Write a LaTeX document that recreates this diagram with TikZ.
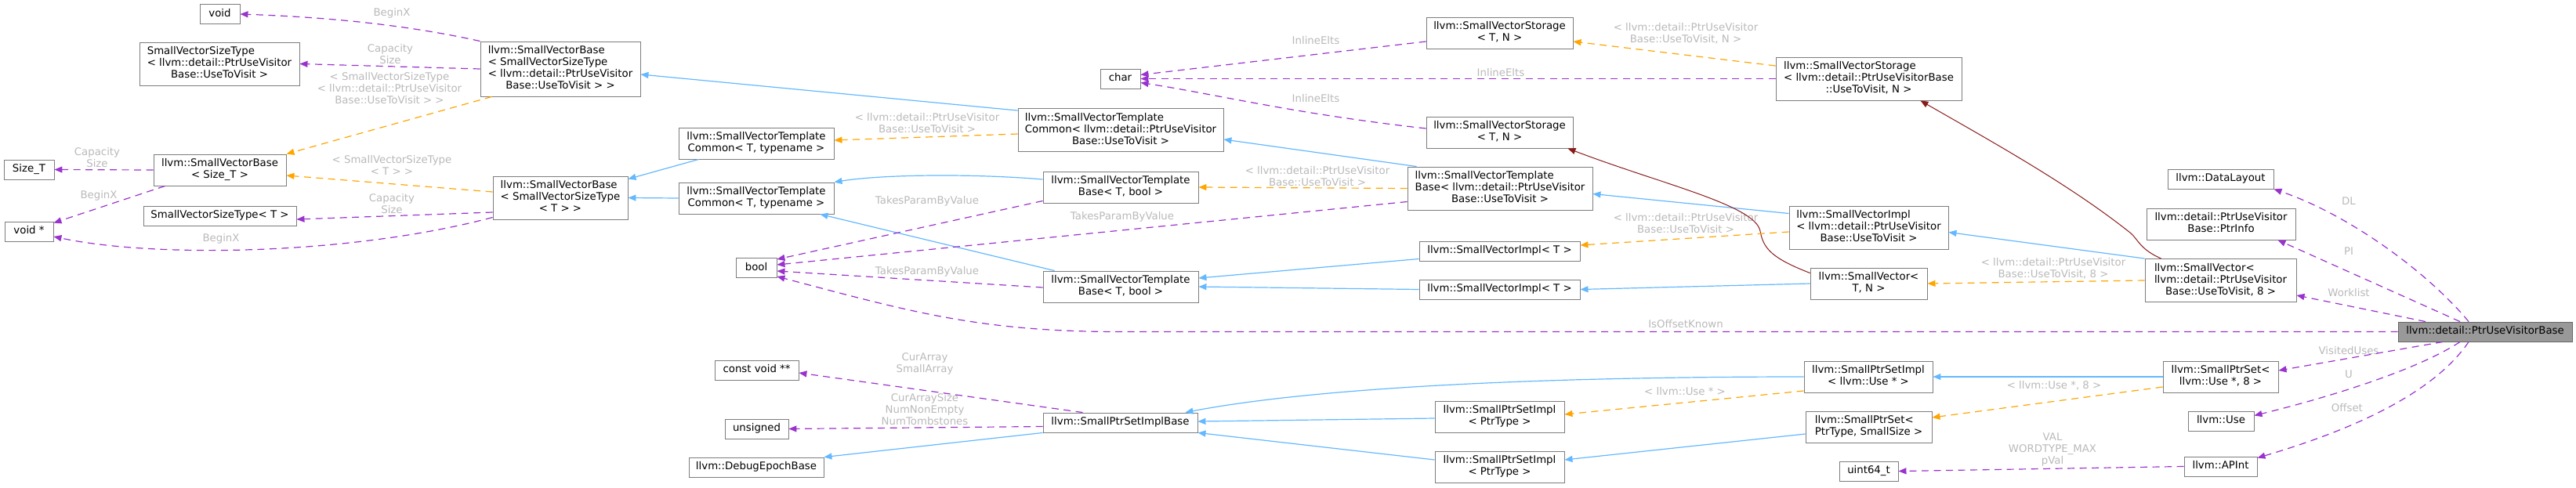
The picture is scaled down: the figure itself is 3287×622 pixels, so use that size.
\documentclass[tikz,border=0pt]{standalone}
\usepackage{fontspec}
\setmainfont{DejaVu Sans}
\usetikzlibrary{arrows.meta}
\definecolor{inhblue}{RGB}{99,184,255}
\definecolor{tmplorange}{RGB}{255,165,0}
\definecolor{memberpurple}{RGB}{154,50,205}
\definecolor{privred}{RGB}{139,26,26}
\definecolor{boxgray}{RGB}{125,125,125}
\definecolor{focusfill}{RGB}{153,153,153}
\definecolor{focusline}{RGB}{102,102,102}
\definecolor{lblgray}{RGB}{185,185,185}
\newcommand{\mln}[2]{\begin{tabular}{@{}l@{}}#1\\\multicolumn{1}{@{}c@{}}{#2}\end{tabular}}
\newcommand{\oneln}[1]{\begin{tabular}{@{}c@{}}#1\end{tabular}}
\tikzset{cls/.style={draw=boxgray,fill=white,line width=0.9pt,minimum height=25pt,inner xsep=0pt,inner ysep=5pt},
  focus/.style={cls,draw=focusline,fill=focusfill},
  lbl/.style={text=lblgray,align=center,inner sep=0pt},
  inh/.style={draw=inhblue,line width=1.2pt,-{Triangle[length=10pt,width=8pt]}},
  tmpl/.style={inh,draw=tmplorange,dash pattern=on 9pt off 6.5pt},
  member/.style={inh,draw=memberpurple,dash pattern=on 9pt off 6.5pt},
  priv/.style={inh,draw=privred,line width=1pt}}

\begin{document}
\begin{tikzpicture}[x=1pt,y=-1pt,font=\fontsize{13.3}{15}\selectfont]
\useasboundingbox (0,0) rectangle (3287,622);
\foreach \n/\x/\y/\w/\txt in {
  voidN/280.5/18/51/{\oneln{void}},
  svstU/280/81.5/204/{\mln{SmallVectorSizeType\\< llvm::detail::PtrUseVisitor}{Base::UseToVisit >}},
  sizeT/37/216.5/64/{\oneln{Size\_T}},
  svbS/280.5/217/169/{\mln{llvm::SmallVectorBase}{< Size\_T >}},
  svstT/280.5/275.5/195/{\oneln{SmallVectorSizeType< T >}},
  voidP/37/295.5/62/{\oneln{void *}},
  svbU/715/88/204/{\mln{llvm::SmallVectorBase\\< SmallVectorSizeType\\< llvm::detail::PtrUseVisitor}{Base::UseToVisit > >}},
  svbT/715/252.5/172/{\mln{llvm::SmallVectorBase\\< SmallVectorSizeType}{< T > >}},
  svtcA/965/183/198/{\mln{llvm::SmallVectorTemplate}{Common< T, typename >}},
  svtcB/965/253/198/{\mln{llvm::SmallVectorTemplate}{Common< T, typename >}},
  boolN/965/342/52/{\oneln{bool}},
  cvpp/965.5/472.5/107/{\oneln{const void **}},
  unsg/965.5/547.5/81/{\oneln{unsigned}},
  debug/965/596.5/172/{\oneln{llvm::DebugEpochBase}},
  charN/1429.5/100.5/51/{\oneln{char}},
  svtcU/1430/166/262/{\mln{llvm::SmallVectorTemplate\\Common< llvm::detail::PtrUseVisitor}{Base::UseToVisit >}},
  svtbA/1430/239/198/{\mln{llvm::SmallVectorTemplate}{Base< T, bool >}},
  svtbB/1430/366/198/{\mln{llvm::SmallVectorTemplate}{Base< T, bool >}},
  spsib/1429.5/539.5/197/{\oneln{llvm::SmallPtrSetImplBase}},
  svsA/1913.5/42/187/{\mln{llvm::SmallVectorStorage}{< T, N >}},
  svsB/1913.5/169/187/{\mln{llvm::SmallVectorStorage}{< T, N >}},
  svtbU/1914/240.5/236/{\mln{llvm::SmallVectorTemplate\\Base< llvm::detail::PtrUseVisitor}{Base::UseToVisit >}},
  sviA/1913.5/320.5/205/{\oneln{llvm::SmallVectorImpl< T >}},
  sviB/1913.5/369.5/205/{\oneln{llvm::SmallVectorImpl< T >}},
  spsiA/1913.5/532/165/{\mln{llvm::SmallPtrSetImpl}{< PtrType >}},
  spsiB/1913.5/596/165/{\mln{llvm::SmallPtrSetImpl}{< PtrType >}},
  svsU/2384.5/100.5/237/{\mln{llvm::SmallVectorStorage\\< llvm::detail::PtrUseVisitorBase}{::UseToVisit, N >}},
  sviU/2384.5/290.5/203/{\mln{llvm::SmallVectorImpl\\< llvm::detail::PtrUseVisitor}{Base::UseToVisit >}},
  svTN/2384.5/362/149/{\mln{llvm::SmallVector<}{T, N >}},
  spsiU/2384/481/164/{\mln{llvm::SmallPtrSetImpl}{< llvm::Use * >}},
  spsPS/2384.5/545/161/{\mln{llvm::SmallPtrSet<}{PtrType, SmallSize >}},
  u64/2384.5/601.5/75/{\oneln{uint64\_t}},
  dl/2833.5/228.5/135/{\oneln{llvm::DataLayout}},
  pinfo/2834/286/190/{\mln{llvm::detail::PtrUseVisitor}{Base::PtrInfo}},
  svU8/2833.5/358/193/{\mln{llvm::SmallVector<\\llvm::detail::PtrUseVisitor}{Base::UseToVisit, 8 >}},
  spsU8/2833.5/481/147/{\mln{llvm::SmallPtrSet<}{llvm::Use *, 8 >}},
  useN/2834/537.5/84/{\oneln{llvm::Use}},
  apint/2833.5/595.5/93/{\oneln{llvm::APInt}}
}{\node[cls,minimum width=\w pt] (\n) at (\x,\y) {\txt};}
\node[focus,minimum width=222pt] (main) at (3171,423.5) {\oneln{llvm::detail::PtrUseVisitorBase}};

\foreach \n/\x/\y/\txt in {
  lBegA/500/17/{BeginX}, lCapA/498/69.5/{Capacity\\Size},
  lTmplA/497/113/{< SmallVectorSizeType\\< llvm::detail::PtrUseVisitor\\Base::UseToVisit > >},
  lCapB/124/201/{Capacity\\Size}, lTmplB/500/211/{< SmallVectorSizeType\\< T > >},
  lBegB/126/250/{BeginX}, lCapC/500/260/{Capacity\\Size}, lBegC/282/305/{BeginX},
  lTmplC/1183/157/{< llvm::detail::PtrUseVisitor\\Base::UseToVisit >},
  lTakesA/1183/257/{TakesParamByValue}, lTakesB/1183/347/{TakesParamByValue},
  lCurArr/1180/464/{CurArray\\SmallArray}, lCurSz/1180/523/{CurArraySize\\NumNonEmpty\\NumTombstones},
  lInlA/1679/52/{InlineElts}, lInlB/1915/93/{InlineElts}, lInlC/1679/126/{InlineElts},
  lTmplD/1681/225/{< llvm::detail::PtrUseVisitor\\Base::UseToVisit >},
  lTakesC/1432/277/{TakesParamByValue},
  lTmplE/2151/43/{< llvm::detail::PtrUseVisitor\\Base::UseToVisit, N >},
  lTmplF/2151/285/{< llvm::detail::PtrUseVisitor\\Base::UseToVisit >},
  lTmplG/2620/343/{< llvm::detail::PtrUseVisitor\\Base::UseToVisit, 8 >},
  lOffKn/2151/414/{IsOffsetKnown}, lUseA/2150/500/{< llvm::Use * >}, lUseB/2621/492/{< llvm::Use *, 8 >},
  lVal/2619/574/{VAL\\WORDTYPE\_MAX\\pVal},
  lDL/2997/257/{DL}, lPI/2997/321/{PI}, lWork/2997/374/{Worklist},
  lVisit/2997/448/{VisitedUses}, lU/2997/478/{U}, lOffset/2997/521/{Offset}
}{\node[lbl] (\n) at (\x,\y) {\txt};}

% public inheritance
\draw[inh] ([yshift=-3pt]svtcU.north west) -- ([yshift=-7pt]svbU.east);
\draw[inh] ([xshift=26pt]svtcA.south west) -- ([yshift=-4pt]svbT.north east);
\draw[inh] (svtcB.west) -- (svbT.east);
\draw[inh] ([yshift=10pt]svtbA.west) .. controls (1250,222) and (1130,222) .. (svtcB.north east);
\draw[inh] ([xshift=15pt]svtbB.north west) -- ([xshift=-18pt]svtcB.south east);
\draw[inh] ([xshift=12pt]svtbU.north west) -- ([yshift=-12pt]svtcU.east);
\draw[inh] ([yshift=-10pt]sviA.west) -- ([yshift=11pt]svtbB.east);
\draw[inh] (sviB.west) -- (svtbB.east);
\draw[inh] ([yshift=18pt]sviU.west) -- ([yshift=-7pt]svtbU.east);
\draw[inh] (svTN.west) -- (sviB.east);
\draw[inh] (svU8.north west) -- ([yshift=-6pt]sviU.east);
\draw[inh] (spsiU.west) .. controls (1900,481) and (1650,500) .. ([xshift=-16pt]spsib.north east);
\draw[inh] ([yshift=-2pt]spsiA.west) -- ([yshift=1.5pt]spsib.east);
\draw[inh] ([yshift=9pt]spsiB.west) -- (spsib.south east);
\draw[inh] (spsib.south west) -- (debug.north east);
\draw[inh] (spsU8.west) -- (spsiU.east);
\draw[inh] ([yshift=-9pt]spsPS.west) -- ([yshift=9pt]spsiB.east);

% private inheritance
\draw[priv] ([yshift=-7pt]svTN.north west) .. controls (2262,330) and (2250,318) .. (2246,295) .. controls (2240,262) and (2120,235) .. ([xshift=-7pt]svsB.south east);
\draw[priv] ([xshift=21pt]svU8.north west) .. controls (2730,318) and (2728,305) .. (2718,297) .. controls (2640,235) and (2540,180) .. ([xshift=-53pt]svsU.south east);

% template instances
\draw[tmpl] ([xshift=15pt]svbU.south west) -- (svbS.north east);
\draw[tmpl] ([yshift=7.5pt]svbT.west) -- ([yshift=-7pt]svbS.east);
\draw[tmpl] ([yshift=-5pt]svtcU.west) -- ([yshift=4pt]svtcA.east);
\draw[tmpl] (svtbU.west) -- (svtbA.east);
\draw[tmpl] ([yshift=16.5pt]svsU.west) -- ([yshift=-11pt]svsA.east);
\draw[tmpl] ([yshift=-5.5pt]sviU.west) -- ([yshift=7.5pt]sviA.east);
\draw[tmpl] (svU8.west) -- (svTN.east);
\draw[tmpl] ([yshift=-18pt]spsiU.west) -- ([yshift=3pt]spsiA.east);
\draw[tmpl] ([yshift=-13pt]spsU8.west) -- ([yshift=12pt]spsPS.east);

% members
\draw[member] (svbU.north west) .. controls (520,32) and (420,22) .. (voidN.east);
\draw[member] (svbU.west) -- (svstU.east);
\draw[member] (svbS.west) -- (sizeT.east);
\draw[member] ([xshift=15pt]svbS.south west) -- ([yshift=-2pt]voidP.north east);
\draw[member] ([yshift=-18.5pt]svbT.west) -- ([yshift=-4.5pt]svstT.east);
\draw[member] ([yshift=-25pt]svbT.west) .. controls (450,325) and (200,330) .. ([yshift=-6.5pt]voidP.east);
\draw[member] ([yshift=-11pt]svsA.west) -- ([yshift=5pt]charN.east);
\draw[member] (svsU.west) -- (charN.east);
\draw[member] ([yshift=5pt]svsB.west) .. controls (1650,145) and (1550,120) .. ([yshift=-5pt]charN.east);
\draw[member] ([yshift=3pt]svtbA.south west) -- ([yshift=-2pt]boolN.north east);
\draw[member] ([yshift=-17pt]svtbU.west) -- ([yshift=4pt]boolN.east);
\draw[member] ([yshift=-1pt]svtbB.west) -- ([yshift=-4pt]boolN.east);
\draw[member] (main.west) -- (main.west -| svtbB.center) .. controls +(-180,0) and +(170,45) .. ([yshift=2pt]boolN.south east);
\draw[member] ([xshift=-48pt]spsib.north) -- ([yshift=-3.5pt]cvpp.east);
\draw[member] ([yshift=-5pt]spsib.west) -- (unsg.east);
\draw[member] ([xshift=-21pt]main.north) .. controls (3100,350) and (3000,275) .. (dl.south east);
\draw[member] ([xshift=-32pt]main.north) -- ([xshift=-23pt]pinfo.south east);
\draw[member] ([xshift=-76pt]main.north) -- ([yshift=-19pt]svU8.east);
\draw[member] ([xshift=-54pt]main.south) -- ([yshift=8pt]spsU8.east);
\draw[member] ([xshift=-32pt]main.south) .. controls (3080,475) and (2960,510) .. ([yshift=7pt]useN.east);
\draw[member] ([xshift=-21pt]main.south) .. controls (3100,510) and (2980,555) .. ([yshift=-2pt]apint.north east);
\draw[member] (apint.west) -- (u64.east);
\end{tikzpicture}
\end{document}
